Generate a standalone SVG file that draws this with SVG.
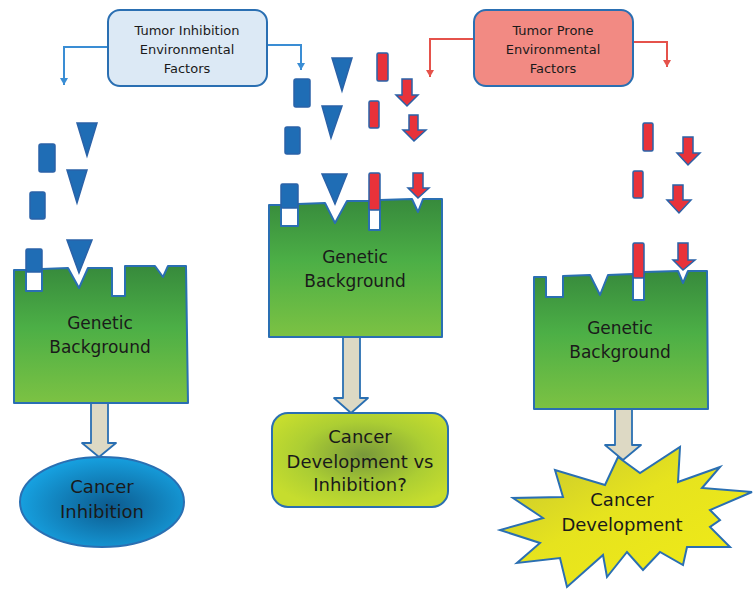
<svg xmlns="http://www.w3.org/2000/svg" width="753" height="589" viewBox="0 0 753 589">
<defs>
<style>
.t{font-family:"Comic Sans MS","DejaVu Sans","Noto Sans",sans-serif;fill:#1a1a1a;text-anchor:middle}
.s13{font-size:13px}
.s17{font-size:17px}
.s18{font-size:18px}
.gb{fill:url(#green);stroke:#2a6fb2;stroke-width:2;stroke-linejoin:round}
.bl{fill:#1f6db5;stroke:#2a62a8;stroke-width:1.5}
.rd{fill:#e8323a;stroke:#2a62a8;stroke-width:1.5}
.fat{fill:#ddd9c4;stroke:#2a6fb2;stroke-width:1.8;stroke-linejoin:round}
.cb{fill:none;stroke:#3a8dd4;stroke-width:2}
.cr{fill:none;stroke:#e5524b;stroke-width:2}
</style>
<linearGradient id="green" x1="0" y1="0" x2="0" y2="1">
<stop offset="0" stop-color="#378a3c"/>
<stop offset="0.45" stop-color="#4caf46"/>
<stop offset="1" stop-color="#7cc243"/>
</linearGradient>
<radialGradient id="blueE" cx="0.55" cy="0.55" r="0.6">
<stop offset="0" stop-color="#0c5a8e"/>
<stop offset="1" stop-color="#17a6e6"/>
</radialGradient>
<radialGradient id="lime" cx="0.52" cy="0.45" r="0.6">
<stop offset="0" stop-color="#78993a"/>
<stop offset="0.6" stop-color="#acce33"/>
<stop offset="1" stop-color="#c6dd2e"/>
</radialGradient>
<linearGradient id="yel" x1="0" y1="0" x2="1" y2="1">
<stop offset="0" stop-color="#c2c232"/>
<stop offset="0.45" stop-color="#e6e31e"/>
<stop offset="1" stop-color="#f2ec16"/>
</linearGradient>
<marker id="ab" markerUnits="userSpaceOnUse" markerWidth="8" markerHeight="8" refX="7" refY="4" orient="auto" viewBox="0 0 8 8">
<path d="M0,0 L7,4 L0,8 Z" fill="#3a8dd4"/>
</marker>
<marker id="ar" markerUnits="userSpaceOnUse" markerWidth="8" markerHeight="8" refX="7" refY="4" orient="auto" viewBox="0 0 8 8">
<path d="M0,0 L7,4 L0,8 Z" fill="#e5524b"/>
</marker>
</defs>
<rect width="753" height="589" fill="#ffffff"/>

<g id="connectors">
<path class="cb" d="M108,47 L64,47 L64,85" marker-end="url(#ab)"/>
<path class="cb" d="M267,45 L301,45 L301,70" marker-end="url(#ab)"/>
<path class="cr" d="M474,39 L430,39 L430,77" marker-end="url(#ar)"/>
<path class="cr" d="M633,42 L667,42 L667,67" marker-end="url(#ar)"/>
<path class="fat" d="M91,403 L108,403 L108,443 L116,443 L99,457 L82,443 L91,443 Z"/>
<path class="fat" d="M343,337 L360,337 L360,398 L368,398 L351,413 L334,398 L343,398 Z"/>
<path class="fat" d="M615,409 L632,409 L632,445 L641,445 L623,460 L605,445 L615,445 Z"/>
</g>

<g id="inhibition-factors">
<rect x="108" y="10" width="159" height="76" rx="12" fill="#dce9f5" stroke="#2a6fb2" stroke-width="2"/>
<text class="t s13" x="187" y="35">Tumor Inhibition</text>
<text class="t s13" x="187" y="54">Environmental</text>
<text class="t s13" x="187" y="73">Factors</text>
</g>

<g id="prone-factors">
<rect x="474" y="10" width="159" height="76" rx="12" fill="#f28a83" stroke="#2a6fb2" stroke-width="2"/>
<text class="t s13" x="553" y="35">Tumor Prone</text>
<text class="t s13" x="553" y="54">Environmental</text>
<text class="t s13" x="553" y="73">Factors</text>
</g>

<g id="falling-factors">
<polygon class="bl" points="77,123 97,123 87,156"/>
<polygon class="bl" points="67,170 87,170 77,203"/>
<rect class="bl" x="39" y="144" width="16" height="28" rx="2"/>
<rect class="bl" x="30" y="192" width="15" height="27" rx="2"/>
<polygon class="bl" points="332,58 352,58 342,91"/>
<polygon class="bl" points="322,106 342,106 331,138"/>
<rect class="bl" x="294" y="79" width="16" height="28" rx="2"/>
<rect class="bl" x="285" y="127" width="15" height="27" rx="2"/>
<rect class="rd" x="377" y="53" width="11" height="28" rx="1.5"/>
<rect class="rd" x="369" y="101" width="10" height="27" rx="1.5"/>
<path class="rd" d="M402,79 L412,79 L412,95 L418,95 L407,106 L396,95 L402,95 Z"/>
<path class="rd" d="M409,115 L418,115 L418,130 L426,130 L414,141 L403,130 L409,130 Z"/>
<rect class="rd" x="643" y="123" width="10" height="28" rx="1.5"/>
<rect class="rd" x="633" y="171" width="10" height="27" rx="1.5"/>
<path class="rd" d="M683,137 L693,137 L693,153 L700,153 L688,165 L677,153 L683,153 Z"/>
<path class="rd" d="M673,185 L683,185 L683,200 L691,200 L679,213 L667,200 L673,200 Z"/>
</g>

<g id="genetic-left">
<path class="gb" d="M14,270 L26,270 L26,291 L42,291 L42,269 L68,268 L79,288 L88,268 L112,268 L112,296 L125,296 L125,266 L155,266 L163,277 L168,266 L186,266 L188,403 L14,403 Z"/>
<rect class="bl" x="26" y="249" width="16" height="23" rx="1.5"/>
<polygon class="bl" points="67,240 92,240 79,273"/>
<text class="t s17" x="100" y="329">Genetic</text>
<text class="t s17" x="100" y="353">Background</text>
</g>

<g id="genetic-middle">
<path class="gb" d="M269,205 L281,205 L281,226 L298,226 L298,204 L325,203 L335,223 L347,201 L369,201 L369,230 L380,230 L380,200 L412,199 L418,212 L423,199 L442,199 L442,337 L269,337 Z"/>
<rect class="bl" x="281" y="184" width="17" height="24" rx="1.5"/>
<polygon class="bl" points="322,174 347,174 335,204"/>
<rect class="rd" x="369" y="173" width="11" height="37" rx="1.5"/>
<path class="rd" d="M413,173 L423,173 L423,188 L429,188 L418,198 L408,188 L413,188 Z"/>
<text class="t s17" x="355" y="263">Genetic</text>
<text class="t s17" x="355" y="287">Background</text>
</g>

<g id="genetic-right">
<path class="gb" d="M534,277 L546,277 L546,297 L563,297 L563,276 L590,275 L600,295 L608,275 L633,274 L633,300 L644,300 L644,272 L678,271 L683,283 L688,271 L707,271 L708,409 L534,409 Z"/>
<rect class="rd" x="633" y="243" width="11" height="35" rx="1.5"/>
<path class="rd" d="M678,243 L688,243 L688,260 L695,260 L683,270 L673,260 L678,260 Z"/>
<text class="t s17" x="620" y="334">Genetic</text>
<text class="t s17" x="620" y="358">Background</text>
</g>

<g id="cancer-inhibition">
<ellipse cx="102" cy="502" rx="82" ry="45" fill="url(#blueE)" stroke="#2a6fb2" stroke-width="2"/>
<text class="t s18" x="102" y="493">Cancer</text>
<text class="t s18" x="102" y="518">Inhibition</text>
</g>

<g id="cancer-question">
<rect x="272" y="413" width="176" height="94" rx="16" fill="url(#lime)" stroke="#2a6fb2" stroke-width="2"/>
<text class="t s18" x="360" y="443">Cancer</text>
<text class="t s18" x="360" y="468">Development vs</text>
<text class="t s18" x="360" y="491">Inhibition?</text>
</g>

<g id="cancer-development">
<path d="M618,457 L640,473 L680,447 L678,482 L720,467 L702,488 L752,492 L710,510 L720,520 L710,527 L730,547 L687,547 L683,565 L660,552 L643,570 L627,552 L607,577 L603,555 L567,587 L560,558 L517,563 L540,543 L500,530 L543,518 L513,498 L563,497 L555,470 L605,485 Z" fill="url(#yel)" stroke="#2a6fb2" stroke-width="2" stroke-linejoin="miter"/>
<text class="t s18" x="622" y="506">Cancer</text>
<text class="t s18" x="622" y="531">Development</text>
</g>
</svg>
